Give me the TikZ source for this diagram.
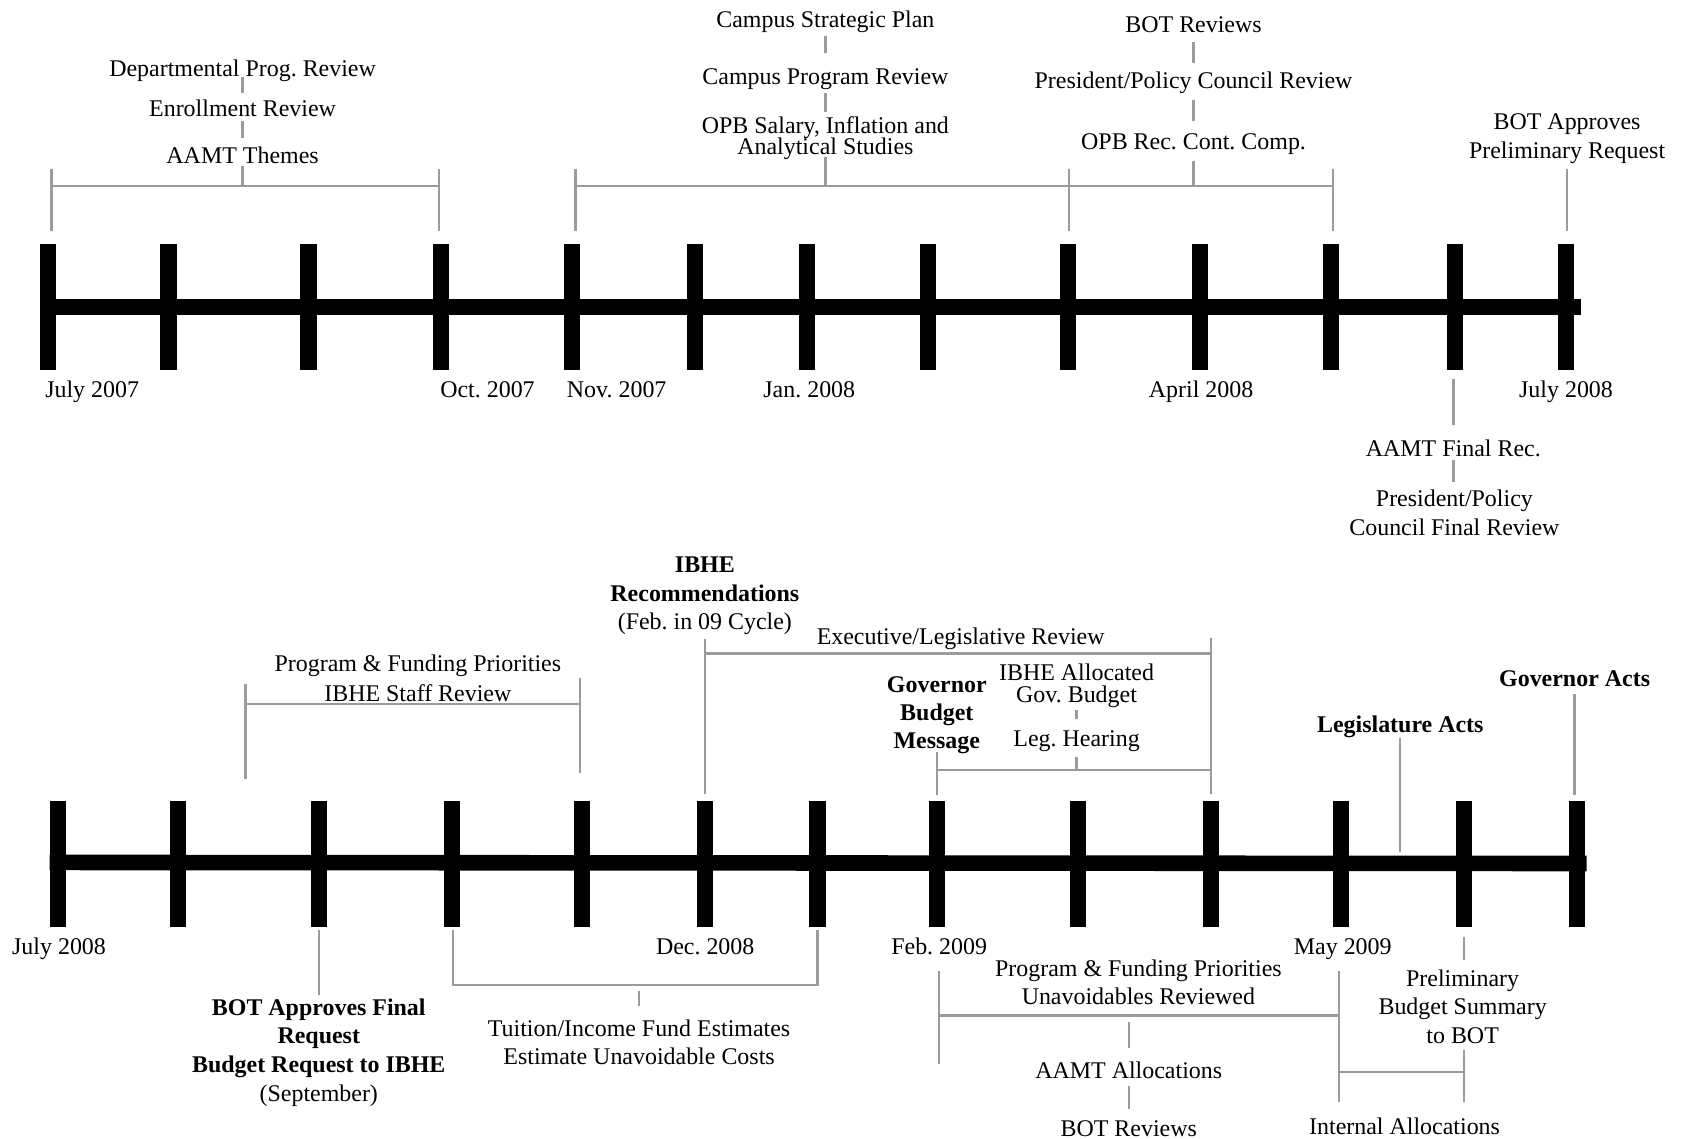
\documentclass[tikz,border=0pt]{standalone}
\usepackage{fontspec}
\setmainfont{Liberation Serif}
\frenchspacing
\newcommand\ff[1]{\fontsize{22.3}{#1}\selectfont\lineskiplimit=-50pt\relax}
\newcommand\mystrut{\rule{0pt}{18pt}}
\definecolor{lg}{RGB}{155,155,155}
\tikzset{
 tk/.style={rectangle,fill=black,inner sep=0pt,minimum width=15pt,minimum height=118pt},
 lbl/.style={anchor=north,inner sep=0pt,align=center,font=\ff{26.5}},
 gl/.style={draw=lg,line width=2.2pt},
 bar/.style={line width=14.5pt},
}
\begin{document}
\begin{tikzpicture}[x=1pt,y=-1pt]
\useasboundingbox (0,0) rectangle (1568,1061);
% ---------- top timeline ----------
\foreach \x [count=\i] in {45,157,287.4,411.2,533,647.3,752,864.3,995,1118.3,1240,1355.2,1459.3}
  \node[tk] (t\i) at (\x,286) {};
\draw[bar] (t1.west) -- ([xshift=6pt]t13.east);
\node[lbl,anchor=north west] (d1) at (42,352.5) {\mystrut July 2007};
\node[lbl,anchor=north west] (d2) at (410,352.5) {\mystrut Oct. 2007};
\node[lbl,anchor=north west] (d3) at (528,352.5) {\mystrut Nov. 2007};
\node[lbl] (d4) at (754,352.5) {\mystrut Jan. 2008};
\node[lbl] (d5) at (1119,352.5) {\mystrut April 2008};
\node[lbl] (d6) at (1459,352.5) {\mystrut July 2008};

\node[lbl] (dep) at (226,53.2) {\mystrut Departmental Prog. Review};
\node[lbl] (enr) at (226,90.5) {\mystrut Enrollment Review};
\node[lbl] (aamt) at (226,133.9) {\mystrut AAMT Themes};
\draw[gl] (dep |- 0,71.4) -- (dep |- 0,87);
\draw[gl] (enr |- 0,113) -- (enr |- 0,129);
\draw[gl] (aamt |- 0,154.4) -- (aamt |- 0,173);
\draw[gl] (48,157.5) -- (48,215) (48,173) -- (409,173) (409,157.5) -- (409,215);

\node[lbl] (csp) at (769,7) {\mystrut Campus Strategic Plan};
\node[lbl] (cpr) at (769,60.9) {\mystrut Campus Program Review};
\node[lbl,font=\ff{19.5}] (opb) at (769,106.5) {\mystrut OPB Salary, Inflation and\\Analytical Studies};
\draw[gl] (csp |- 0,34) -- (csp |- 0,49.7);
\draw[gl] (cpr |- 0,87) -- (cpr |- 0,104);
\draw[gl] (opb |- 0,146) -- (opb |- 0,173);
\draw[gl] (536,157) -- (536,215) (536,173) -- (1242,173) (996,157) -- (996,215) (1242,157) -- (1242,215);

\node[lbl] (bot1) at (1112,12.1) {\mystrut BOT Reviews};
\node[lbl] (ppcr) at (1112,64.4) {\mystrut President/Policy Council Review};
\node[lbl] (opbrec) at (1112,121) {\mystrut OPB Rec. Cont. Comp.};
\draw[gl] (bot1 |- 0,39) -- (bot1 |- 0,59);
\draw[gl] (ppcr |- 0,93) -- (ppcr |- 0,113);
\draw[gl] (opbrec |- 0,150.4) -- (opbrec |- 0,173);

\node[lbl,font=\ff{26.8}] (botap) at (1460,102.5) {\mystrut BOT Approves\\Preliminary Request};
\draw[gl] (botap |- 0,157) -- (botap |- 0,215);

\node[lbl] (aamtf) at (1354,407.1) {\mystrut AAMT Final Rec.};
\node[lbl,font=\ff{26.8}] (ppcfr) at (1355,453.5) {\mystrut President/Policy\\Council Final Review};
\draw[gl] (aamtf |- 0,352.7) -- (aamtf |- 0,396);
\draw[gl] (aamtf |- 0,429) -- (aamtf |- 0,449);

% ---------- bottom timeline ----------
\foreach \x [count=\i] in {53.9,166.2,297,420.7,542,656.8,761.6,873.3,1004.6,1128.3,1249.4,1364.2,1469}
  \node[tk] (u\i) at (\x,805) {};
\draw[bar] ([yshift=1.5pt]u1.west) -- ([xshift=1.5pt,yshift=0.5pt]u13.east);
\node[lbl] (e1) at (55,871.5) {\mystrut July 2008};
\node[lbl] (e2) at (657,871.5) {\mystrut Dec. 2008};
\node[lbl] (e3) at (875,871.5) {\mystrut Feb. 2009};
\node[lbl] (e4) at (1251,871.5) {\mystrut May 2009};

\node[lbl] (ibhe) at (656.7,515.5) {\mystrut\textbf{IBHE}\\\textbf{Recommendations}\\(Feb. in 09 Cycle)};
\draw[gl] (ibhe |- 0,595) -- (ibhe |- 0,740);
\draw[gl] (ibhe |- 0,609) -- (1128.3,609) (1128.3,594) -- (1128.3,740);
\node[lbl] (exec) at (895,582.3) {\mystrut Executive/Legislative Review};

\node[lbl,font=\ff{27.8}] (pfp) at (389.3,607.2) {\mystrut Program \& Funding Priorities\\IBHE Staff Review};
\draw[gl] (228.6,637.6) -- (228.6,725.5) (228.6,656) -- (540.5,656) (540.5,632) -- (540.5,720);

\node[lbl,font=\ff{26.2}] (gov) at (872.8,627.1) {\mystrut\textbf{Governor}\\\textbf{Budget}\\\textbf{Message}};
\draw[gl] (gov |- 0,700.6) -- (gov |- 0,741) (gov |- 0,717.4) -- (1128.3,717.4);
\node[lbl,font=\ff{20.5}] (iag) at (1003,615.5) {\mystrut IBHE Allocated\\Gov. Budget};
\node[lbl] (leg) at (1003,677) {\mystrut Leg. Hearing};
\draw[gl] (iag |- 0,661.5) -- (iag |- 0,669.7);
\draw[gl] (leg |- 0,705) -- (leg |- 0,717.4);

\node[lbl] (legacts) at (1304.6,664.5) {\mystrut\textbf{Legislature Acts}};
\draw[gl] (legacts |- 0,688) -- (legacts |- 0,794);
\node[lbl] (govacts) at (1467,621.8) {\mystrut\textbf{Governor Acts}};
\draw[gl] (govacts |- 0,646.5) -- (govacts |- 0,741);

\node[lbl,font=\ff{26.7}] (botf) at (297,927.5) {\mystrut\textbf{BOT Approves Final}\\\textbf{Request}\\\textbf{Budget Request to IBHE}\\(September)};
\draw[gl] (botf |- 0,866) -- (botf |- 0,926.6);
\draw[gl] (422,866) -- (422,917.7) -- (761.6,917.7) -- (761.6,866);
\node[lbl,font=\ff{26.3}] (tuit) at (595.4,947.5) {\mystrut Tuition/Income Fund Estimates\\Estimate Unavoidable Costs};
\draw[gl] (tuit |- 0,923) -- (tuit |- 0,937.3);

\node[lbl,font=\ff{26}] (pfp2) at (1060.6,891.2) {\mystrut Program \& Funding Priorities\\Unavoidables Reviewed};
\draw[gl] (874.8,904.6) -- (874.8,991.4) (874.8,946.2) -- (1247.5,946.2) (1247.5,904.6) -- (1247.5,1026.3);
\node[lbl] (aamta) at (1051.6,986.5) {\mystrut AAMT Allocations};
\node[lbl] (botr) at (1051.6,1040.5) {\mystrut BOT Reviews};
\draw[gl] (aamta |- 0,952.2) -- (aamta |- 0,976.4);
\draw[gl] (aamta |- 0,1012) -- (aamta |- 0,1033.4);

\node[lbl,font=\ff{26.4}] (prelim) at (1362.7,900.8) {\mystrut Preliminary\\Budget Summary\\to BOT};
\draw[gl] (u12 |- 0,873.3) -- (u12 |- 0,894.6);
\draw[gl] (1247.5,998.5) -- (1363.7,998.5) (1363.7,978.3) -- (1363.7,1026.3);
\node[lbl] (intall) at (1308.6,1038.9) {\mystrut Internal Allocations};
\end{tikzpicture}
\end{document}
